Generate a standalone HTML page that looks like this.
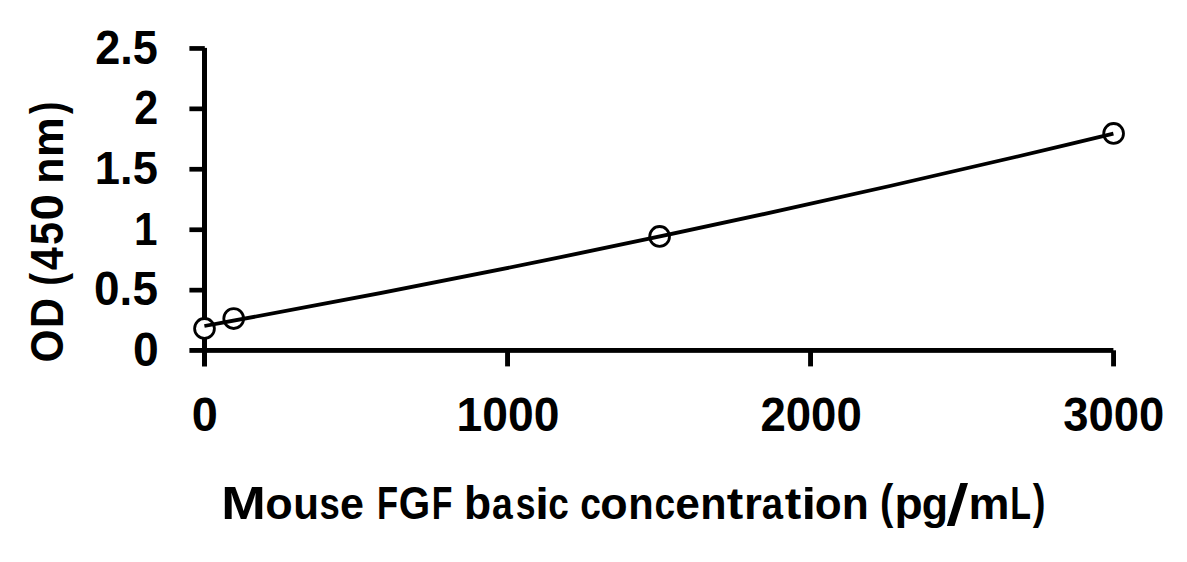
<!DOCTYPE html>
<html><head><meta charset="utf-8"><title>Chart</title>
<style>html,body{margin:0;padding:0;background:#fff;}body{width:1187px;height:562px;overflow:hidden;font-family:"Liberation Sans",sans-serif;}svg{display:block;}</style>
</head><body>
<svg width="1187" height="562" viewBox="0 0 1187 562">
<rect width="1187" height="562" fill="#fff"/>
<g fill="#000"><rect x="202" y="47.9" width="5" height="318.6"/><rect x="189.4" y="348.0" width="924.0" height="4.85"/><rect x="189.4" y="46.10" width="15.4" height="4.7"/><rect x="189.4" y="106.50" width="15.4" height="4.7"/><rect x="189.4" y="166.90" width="15.4" height="4.7"/><rect x="189.4" y="227.40" width="15.4" height="4.7"/><rect x="189.4" y="287.80" width="15.4" height="4.7"/><rect x="505.10" y="350.3" width="4.9" height="16.1"/><rect x="808.10" y="350.3" width="4.9" height="16.1"/><rect x="1111.10" y="350.3" width="4.9" height="16.1"/></g>
<g fill="#fff" stroke="#000" stroke-width="2.8"><circle cx="204.5" cy="328.4" r="9.9"/><circle cx="233.7" cy="318.6" r="9.9"/><circle cx="659.6" cy="236.4" r="9.9"/><circle cx="1113.6" cy="133.4" r="9.9"/></g>
<path d="M204.4 326.0 Q658.9 243.54 1113.4 133.6" fill="none" stroke="#000" stroke-width="3.8"/>
<g font-family="Liberation Sans, sans-serif" font-weight="700" font-size="46.4" fill="#000"><text transform="matrix(0.9717 0 0 1.0336 95.24 64.38)">2.5</text>
<text transform="matrix(0.9289 0 0 1.0295 134.21 124.00)">2</text>
<text transform="matrix(0.9776 0 0 1.0138 94.87 184.34)">1.5</text>
<text transform="matrix(0.9116 0 0 0.9969 133.97 244.90)">1</text>
<text transform="matrix(0.9902 0 0 1.0382 94.07 305.38)">0.5</text>
<text transform="matrix(0.9978 0 0 1.0443 132.95 365.58)">0</text>
<text transform="matrix(1.0112 0 0 1.0443 191.73 430.58)">0</text>
<text transform="matrix(0.9964 0 0 1.0443 456.61 430.58)">1000</text>
<text transform="matrix(0.9815 0 0 1.0443 760.43 430.58)">2000</text>
<text transform="matrix(0.9790 0 0 1.0443 1063.28 430.58)">3000</text>
<text transform="matrix(1.1538 0 0 1.0000 221.24 518.80)">M</text><text transform="matrix(0.9697 0 0 0.9650 265.20 518.80)">o</text><text transform="matrix(0.9079 0 0 0.9650 293.18 518.80)">u</text><text transform="matrix(0.7865 0 0 0.9650 319.42 518.80)">s</text><text transform="matrix(0.9289 0 0 0.9650 340.07 518.80)">e</text><text transform="matrix(0.7411 0 0 1.0000 376.88 518.80)">F</text><text transform="matrix(0.8704 0 0 1.0000 398.66 518.80)">G</text><text transform="matrix(0.7284 0 0 1.0000 431.81 518.80)">F</text><text transform="matrix(0.9574 0 0 1.0000 464.03 518.80)">b</text><text transform="matrix(0.8040 0 0 0.9650 491.89 518.80)">a</text><text transform="matrix(0.7685 0 0 0.9650 515.76 518.80)">s</text><text transform="matrix(1.0560 0 0 0.9450 535.37 518.80)">i</text><text transform="matrix(0.7956 0 0 0.9650 548.31 518.80)">c</text><text transform="matrix(0.8000 0 0 0.9650 580.30 518.80)">c</text><text transform="matrix(0.9657 0 0 0.9650 600.31 518.80)">o</text><text transform="matrix(0.8978 0 0 0.9650 628.21 518.80)">n</text><text transform="matrix(0.8000 0 0 0.9650 654.50 518.80)">c</text><text transform="matrix(0.9556 0 0 0.9650 675.13 518.80)">e</text><text transform="matrix(0.9289 0 0 0.9650 700.21 518.80)">n</text><text transform="matrix(1.0690 0 0 0.9450 726.87 518.80)">t</text><text transform="matrix(0.9895 0 0 0.9650 744.03 518.80)">r</text><text transform="matrix(0.8242 0 0 0.9650 761.87 518.80)">a</text><text transform="matrix(1.0690 0 0 0.9450 784.87 518.80)">t</text><text transform="matrix(1.1360 0 0 0.9450 801.51 518.80)">i</text><text transform="matrix(0.9495 0 0 0.9650 814.74 518.80)">o</text><text transform="matrix(0.9556 0 0 0.9650 841.83 518.80)">n</text><text transform="matrix(0.8615 0 0 1.0302 880.06 518.11)">(</text><text transform="matrix(0.9957 0 0 0.9650 894.51 518.80)">p</text><text transform="matrix(0.9290 0 0 0.9650 921.74 518.80)">g</text><polygon points="946.8,526 954.5,526 968,483.1 960.4,483.1"/><text transform="matrix(0.9944 0 0 0.9650 968.62 518.80)">m</text><text transform="matrix(0.7333 0 0 1.0000 1010.30 518.80)">L</text><text transform="matrix(0.8231 0 0 1.0302 1032.79 518.11)">)</text>
<text transform="matrix(0 -0.9132 1.0000 0 63.20 362.53)">O</text>
<text transform="matrix(0 -0.8982 1.0000 0 63.20 327.99)">D</text>
<text transform="matrix(0 -0.8231 1.0000 0 63.20 285.65)">(</text>
<text transform="matrix(0 -0.8889 1.0000 0 63.20 270.27)">4</text>
<text transform="matrix(0 -0.8913 1.0000 0 63.20 245.04)">5</text>
<text transform="matrix(0 -1.0292 1.0000 0 63.20 220.50)">0</text>
<text transform="matrix(0 -0.9244 0.9550 0 63.20 183.67)">n</text>
<text transform="matrix(0 -0.9634 0.9550 0 63.20 157.09)">m</text>
<text transform="matrix(0 -0.8038 1.0000 0 63.20 114.10)">)</text></g>
</svg>
</body></html>
